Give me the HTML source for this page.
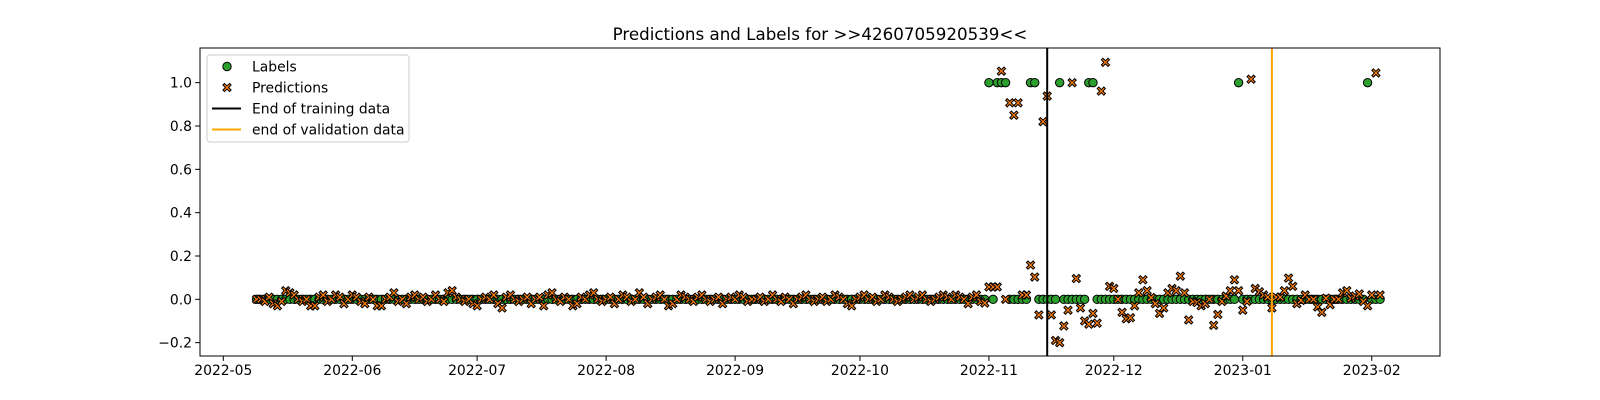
<!DOCTYPE html>
<html><head><meta charset="utf-8">
<style>
html,body{margin:0;padding:0;background:#fff;}
svg{display:block;font-family:"DejaVu Sans","Liberation Sans",sans-serif;}
</style></head>
<body>
<svg id="chart" width="1600" height="400" viewBox="0 0 1600 400" xmlns="http://www.w3.org/2000/svg">
<rect width="1600" height="400" fill="#fff"/>
<text x="820" y="40" text-anchor="middle" font-size="16.7">Predictions and Labels for &gt;&gt;4260705920539&lt;&lt;</text>
<g id="marks"></g>
<g id="axes"></g>
<g id="legend">
<rect x="207" y="55" width="202" height="87" rx="3" fill="#fff" fill-opacity="0.8" stroke="#ccc"/>
<g>
<circle cx="227" cy="66.5" r="4.2" fill="#2ca02c" stroke="#000" stroke-width="1"/>
<text x="252" y="71.5" font-size="13.9">Labels</text></g>
<g>
<path id="legX" fill="#ff7f0e" stroke="#000" stroke-width="1"/>
<text x="252" y="92.5" font-size="13.9">Predictions</text></g>
<g>
<line x1="212" x2="241" y1="108.5" y2="108.5" stroke="#000" stroke-width="2"/>
<text x="252" y="113.5" font-size="13.9">End of training data</text></g>
<g>
<line x1="212" x2="241" y1="129.5" y2="129.5" stroke="#ffa500" stroke-width="2"/>
<text x="252" y="134.5" font-size="13.9">end of validation data</text></g>
</g>
</svg>
<script>
// day offsets from 2022-05-01
const firstDay = 8;
const predictions = [
0.0,0.0,-0.01,0.01,-0.02,-0.03,-0.01,0.04,0.03,0.02,
0.0,-0.01,0.0,-0.03,-0.03,0.01,0.02,-0.01,0.0,0.02,
0.01,-0.02,0.0,0.02,0.01,-0.01,-0.02,0.01,0.0,-0.03,
-0.03,0.0,0.01,0.03,-0.01,0.0,-0.02,0.01,0.02,0.0,
0.01,-0.01,0.0,0.02,0.0,-0.01,0.03,0.04,0.01,0.0,
-0.01,0.0,-0.02,-0.03,0.0,0.01,0.0,0.02,-0.02,-0.04,
0.01,0.02,0.0,-0.01,0.0,0.01,-0.02,0.0,0.01,-0.03,
0.02,0.03,0.0,-0.01,0.01,0.0,-0.03,-0.02,0.01,0.0,
0.02,0.03,0.0,-0.01,0.0,0.01,-0.02,0.0,0.02,0.01,
-0.01,0.0,0.03,0.01,-0.02,0.0,0.01,0.02,0.0,-0.03,
-0.02,0.0,0.02,0.01,0.0,-0.01,0.01,0.02,0.0,-0.01,
0.0,0.01,-0.02,0.0,0.01,0.0,0.02,0.01,-0.01,0.0,
0.0,0.01,-0.01,0.0,0.02,0.0,-0.01,0.01,0.0,-0.02,
0.0,0.01,0.02,0.0,-0.01,0.0,0.01,-0.01,0.0,0.02,
0.01,0.0,-0.02,-0.03,0.0,0.01,0.02,0.0,0.01,-0.01,
0.0,0.02,0.01,0.0,-0.01,0.0,0.01,0.02,0.0,0.01,
0.02,0.0,-0.01,0.0,0.01,0.02,0.01,0.0,0.02,0.01,
0.0,-0.02,0.01,0.02,-0.01,-0.017,
0.057,0.057,0.057,1.053,0.0,0.907,0.85,0.907,0.02,0.02,
0.158,0.103,-0.072,0.82,0.938,-0.072,-0.19,-0.20,-0.123,-0.05,
1.0,0.096,-0.04,-0.1,-0.115,-0.065,-0.11,0.961,1.094,0.06,
0.05,0.0,-0.06,-0.09,-0.085,-0.03,0.03,0.09,0.04,0.008,
-0.02,-0.065,-0.04,0.03,0.05,0.04,0.107,0.03,-0.095,-0.01,
-0.015,-0.03,-0.02,0.0,-0.12,-0.07,-0.01,0.015,0.04,0.09,
0.04,-0.05,-0.01,1.016,0.05,0.035,0.02,0.01,-0.04,0.01,
0.01,0.04,0.098,0.06,-0.02,-0.005,0.02,0,0,-0.035,
-0.06,0.005,-0.025,0,0,0.03,0.04,0.005,0.015,0.025,
-0.01,-0.03,0.02,1.045,0.02];
const labels = [
0,0,0,0,0,0,0,0,0,0, 0,0,0,0,0,0,0,0,0,0, 0,0,0,0,0,0,0,0,0,0,
0,0,0,0,0,0,0,0,0,0, 0,0,0,0,0,0,0,0,0,0, 0,0,0,0,0,0,0,0,0,0,
0,0,0,0,0,0,0,0,0,0, 0,0,0,0,0,0,0,0,0,0, 0,0,0,0,0,0,0,0,0,0,
0,0,0,0,0,0,0,0,0,0, 0,0,0,0,0,0,0,0,0,0, 0,0,0,0,0,0,0,0,0,0,
0,0,0,0,0,0,0,0,0,0, 0,0,0,0,0,0,0,0,0,0, 0,0,0,0,0,0,0,0,0,0,
0,0,0,0,0,0,0,0,0,0, 0,0,0,0,0,0,0,0,0,0, 0,0,0,0,0,0,
1,0,1,1,1,0,0,0,0,0,
1,1,0,0,0,0,0,1,0,0,
0,0,0,0,1,1,0,0,0,0,
0,0,0,0,0,0,0,0,0,0,
0,0,0,0,0,0,0,0,0,0,
0,0,0,0,0,0,0,0,0,0,
1,0,0,0,0,0,0,0,0,0,
0,0,0,0,0,0,0,0,0,0,
0,0,0,0,0,0,0,0,0,0,
0,1,0,0,0];
const trainingEndDay = 198;
const validationEndDay = 252;
const xTickDays = [0,31,61,92,123,153,184,214,245,276];
const xTickLabels = ["2022-05","2022-06","2022-07","2022-08","2022-09","2022-10","2022-11","2022-12","2023-01","2023-02"];
const yTickValues = [-0.2,0.0,0.2,0.4,0.6,0.8,1.0];
const yTickLabels = ["−0.2","0.0","0.2","0.4","0.6","0.8","1.0"];

const L=200,R=1440,T=48,B=356;
const xDayMin=-5.6, xDayMax=292.4, yMin=-0.2616, yMax=1.16;
function xs(d){return L+(d-xDayMin)/(xDayMax-xDayMin)*(R-L);}
function ys(v){return B-(v-yMin)/(yMax-yMin)*(B-T);}
const NS="http://www.w3.org/2000/svg";
function mk(tag,attrs,parent){const e=document.createElementNS(NS,tag);for(const k in attrs)e.setAttribute(k,attrs[k]);parent.appendChild(e);return e;}
function xPath(cx,cy,s){
  const a=s/2,w=s*0.19;const pts=[[0,-w],[a-w,-a],[a,-a+w],[w,0],[a,a-w],[a-w,a],[0,w],[-a+w,a],[-a,a-w],[-w,0],[-a,-a+w],[-a+w,-a]];
  return "M"+pts.map(p=>(cx+p[0]).toFixed(2)+","+(cy+p[1]).toFixed(2)).join("L")+"Z";
}
document.getElementById('legX').setAttribute('d',xPath(227,87.5,8.2));
const marks=document.getElementById('marks');
const gl=mk('g',{},marks);


labels.forEach((v,i)=>{
  const c=mk('circle',{cx:xs(firstDay+i),cy:ys(v),r:4.2,fill:'#2ca02c',stroke:'#000','stroke-width':1},gl);
  
  
});
const gp=mk('g',{},marks);


predictions.forEach((v,i)=>{
  const p=mk('path',{d:xPath(xs(firstDay+i),ys(v),8.2),fill:'#ff7f0e',stroke:'#000','stroke-width':1},gp);
  
  
});
const l1=mk('line',{x1:xs(trainingEndDay),x2:xs(trainingEndDay),y1:T,y2:B,stroke:'#000','stroke-width':2},marks);


const l2=mk('line',{x1:xs(validationEndDay),x2:xs(validationEndDay),y1:T,y2:B,stroke:'#ffa500','stroke-width':2},marks);



const axes=document.getElementById('axes');
const fr=mk('rect',{x:L,y:T,width:R-L,height:B-T,fill:'none',stroke:'#000','stroke-width':1},axes);


xTickDays.forEach((d,i)=>{
  const x=xs(d);
  mk('line',{x1:x,x2:x,y1:B,y2:B+4.9,stroke:'#000','stroke-width':1},axes);
  const t=mk('text',{x:x,y:B+19,'text-anchor':'middle','font-size':13.9},axes);
  t.textContent=xTickLabels[i];
  
  
});
yTickValues.forEach((v,i)=>{
  const y=ys(v);
  mk('line',{x1:L-4.9,x2:L,y1:y,y2:y,stroke:'#000','stroke-width':1},axes);
  const t=mk('text',{x:L-8,y:y+5,'text-anchor':'end','font-size':13.9},axes);
  t.textContent=yTickLabels[i];
  
  
});
</script>
</body></html>
